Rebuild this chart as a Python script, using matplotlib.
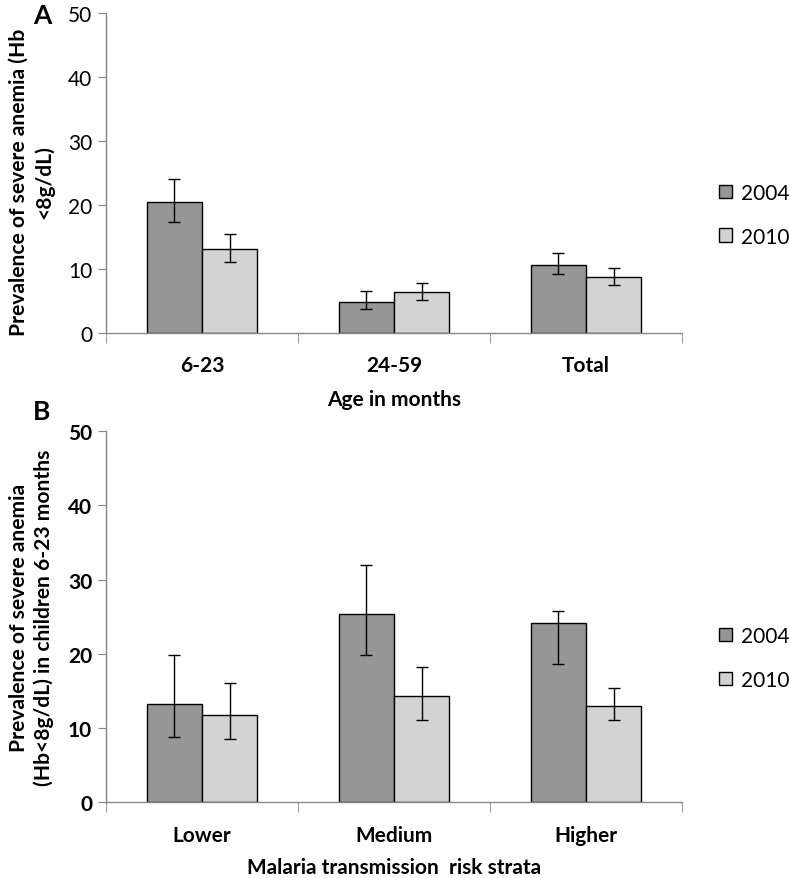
import matplotlib
matplotlib.use('Agg')
import matplotlib.pyplot as plt
import numpy as np

plt.rcParams['font.family'] = ['Lato', 'DejaVu Sans']

years = ['2004', '2010']
colors = ['#969696', '#d3d3d3']

# panel A
age_groups = ['6-23', '24-59', 'Total']
a_2004 = [20.4, 4.9, 10.6]
a_2004_lo = [17.4, 3.75, 9.2]
a_2004_hi = [24.1, 6.6, 12.5]
a_2010 = [13.2, 6.35, 8.7]
a_2010_lo = [11.1, 5.2, 7.5]
a_2010_hi = [15.5, 7.8, 10.1]

# panel B
strata = ['Lower', 'Medium', 'Higher']
b_2004 = [13.3, 25.4, 24.1]
b_2004_lo = [8.8, 19.9, 18.6]
b_2004_hi = [19.9, 32.0, 25.8]
b_2010 = [11.8, 14.3, 13.0]
b_2010_lo = [8.5, 11.05, 11.05]
b_2010_hi = [16.1, 18.2, 15.45]

ylab_a = 'Prevalence of severe anemia (Hb\n<8g/dL)'
ylab_b = 'Prevalence of severe anemia\n(Hb<8g/dL) in children 6-23 months'

W, H = 789, 879
fig = plt.figure(figsize=(W / 100, H / 100), dpi=100)

# Lato is wider than the Calibri of the original: size the y labels to the same length
fig.canvas.draw()
r = fig.canvas.get_renderer()
probe = fig.text(0, 0, ylab_a.split('\n')[0], fontsize=14, fontweight='bold')
ysize = 14 * 308 / probe.get_window_extent(r).width
probe.remove()


def draw(ax, cats, v1, lo1, hi1, v2, lo2, hi2, bold_ticks, leg_y):
    x = np.arange(len(cats))
    bw = 0.2865
    for off, vals, lo, hi, c, lab in [(-bw / 2, v1, lo1, hi1, colors[0], years[0]),
                                      (bw / 2, v2, lo2, hi2, colors[1], years[1])]:
        vals = np.array(vals)
        err = [vals - np.array(lo), np.array(hi) - vals]
        ax.bar(x + off, vals, bw, color=c, edgecolor='black', linewidth=1, label=lab, zorder=2)
        ax.errorbar(x + off, vals, yerr=err, fmt='none', ecolor='black', elinewidth=1,
                    capsize=4, capthick=1, zorder=3)
    ax.set_xlim(-0.5, len(cats) - 0.5)
    ax.set_ylim(0, 50)
    ax.set_yticks([0, 10, 20, 30, 40, 50])
    ax.set_xticks(x)
    ax.set_xticklabels(cats, fontsize=15, fontweight='bold')
    ax.set_xticks(np.arange(len(cats) + 1) - 0.5, minor=True)
    ax.tick_params(axis='x', which='major', length=0, pad=16)
    ax.tick_params(axis='x', which='minor', length=7, color='#868686', direction='out')
    ax.tick_params(axis='y', length=6, color='#868686', labelsize=15, pad=4)
    if bold_ticks:
        for t in ax.get_yticklabels():
            t.set_fontweight('bold')
    for s in ['top', 'right']:
        ax.spines[s].set_visible(False)
    for s in ['left', 'bottom']:
        ax.spines[s].set_color('#868686')
        ax.spines[s].set_linewidth(1)
    ax.legend(loc='center left', bbox_to_anchor=(1.064, leg_y), frameon=False,
              borderaxespad=0, borderpad=0,
              fontsize=15, handlelength=0.62, handleheight=0.62, handletextpad=0.45,
              labelspacing=1.15)


axA = fig.add_axes([106 / W, 1 - 334 / H, 576 / W, 320 / H])
draw(axA, age_groups, a_2004, a_2004_lo, a_2004_hi, a_2010, a_2010_lo, a_2010_hi, False, 0.37)
axA.set_ylabel(ylab_a, fontsize=ysize, fontweight='bold', linespacing=1.3)
axA.yaxis.set_label_coords(-0.09, 0.475)
axA.set_xlabel('Age in months', fontsize=15, fontweight='bold', labelpad=10)

axB = fig.add_axes([106 / W, 1 - 803.3 / H, 576 / W, 371 / H])
draw(axB, strata, b_2004, b_2004_lo, b_2004_hi, b_2010, b_2010_lo, b_2010_hi, True, 0.39)
axB.set_ylabel(ylab_b, fontsize=ysize, fontweight='bold', linespacing=1.3)
axB.yaxis.set_label_coords(-0.09, 0.5)
axB.set_xlabel('Malaria transmission  risk strata', fontsize=15, fontweight='bold', labelpad=9)

fig.text(33 / W, 1 - 16 / H, 'A', fontsize=19, fontweight='bold', va='center')
fig.text(33 / W, 1 - 412 / H, 'B', fontsize=19, fontweight='bold', va='center')

fig.savefig('out.png', dpi=100)
